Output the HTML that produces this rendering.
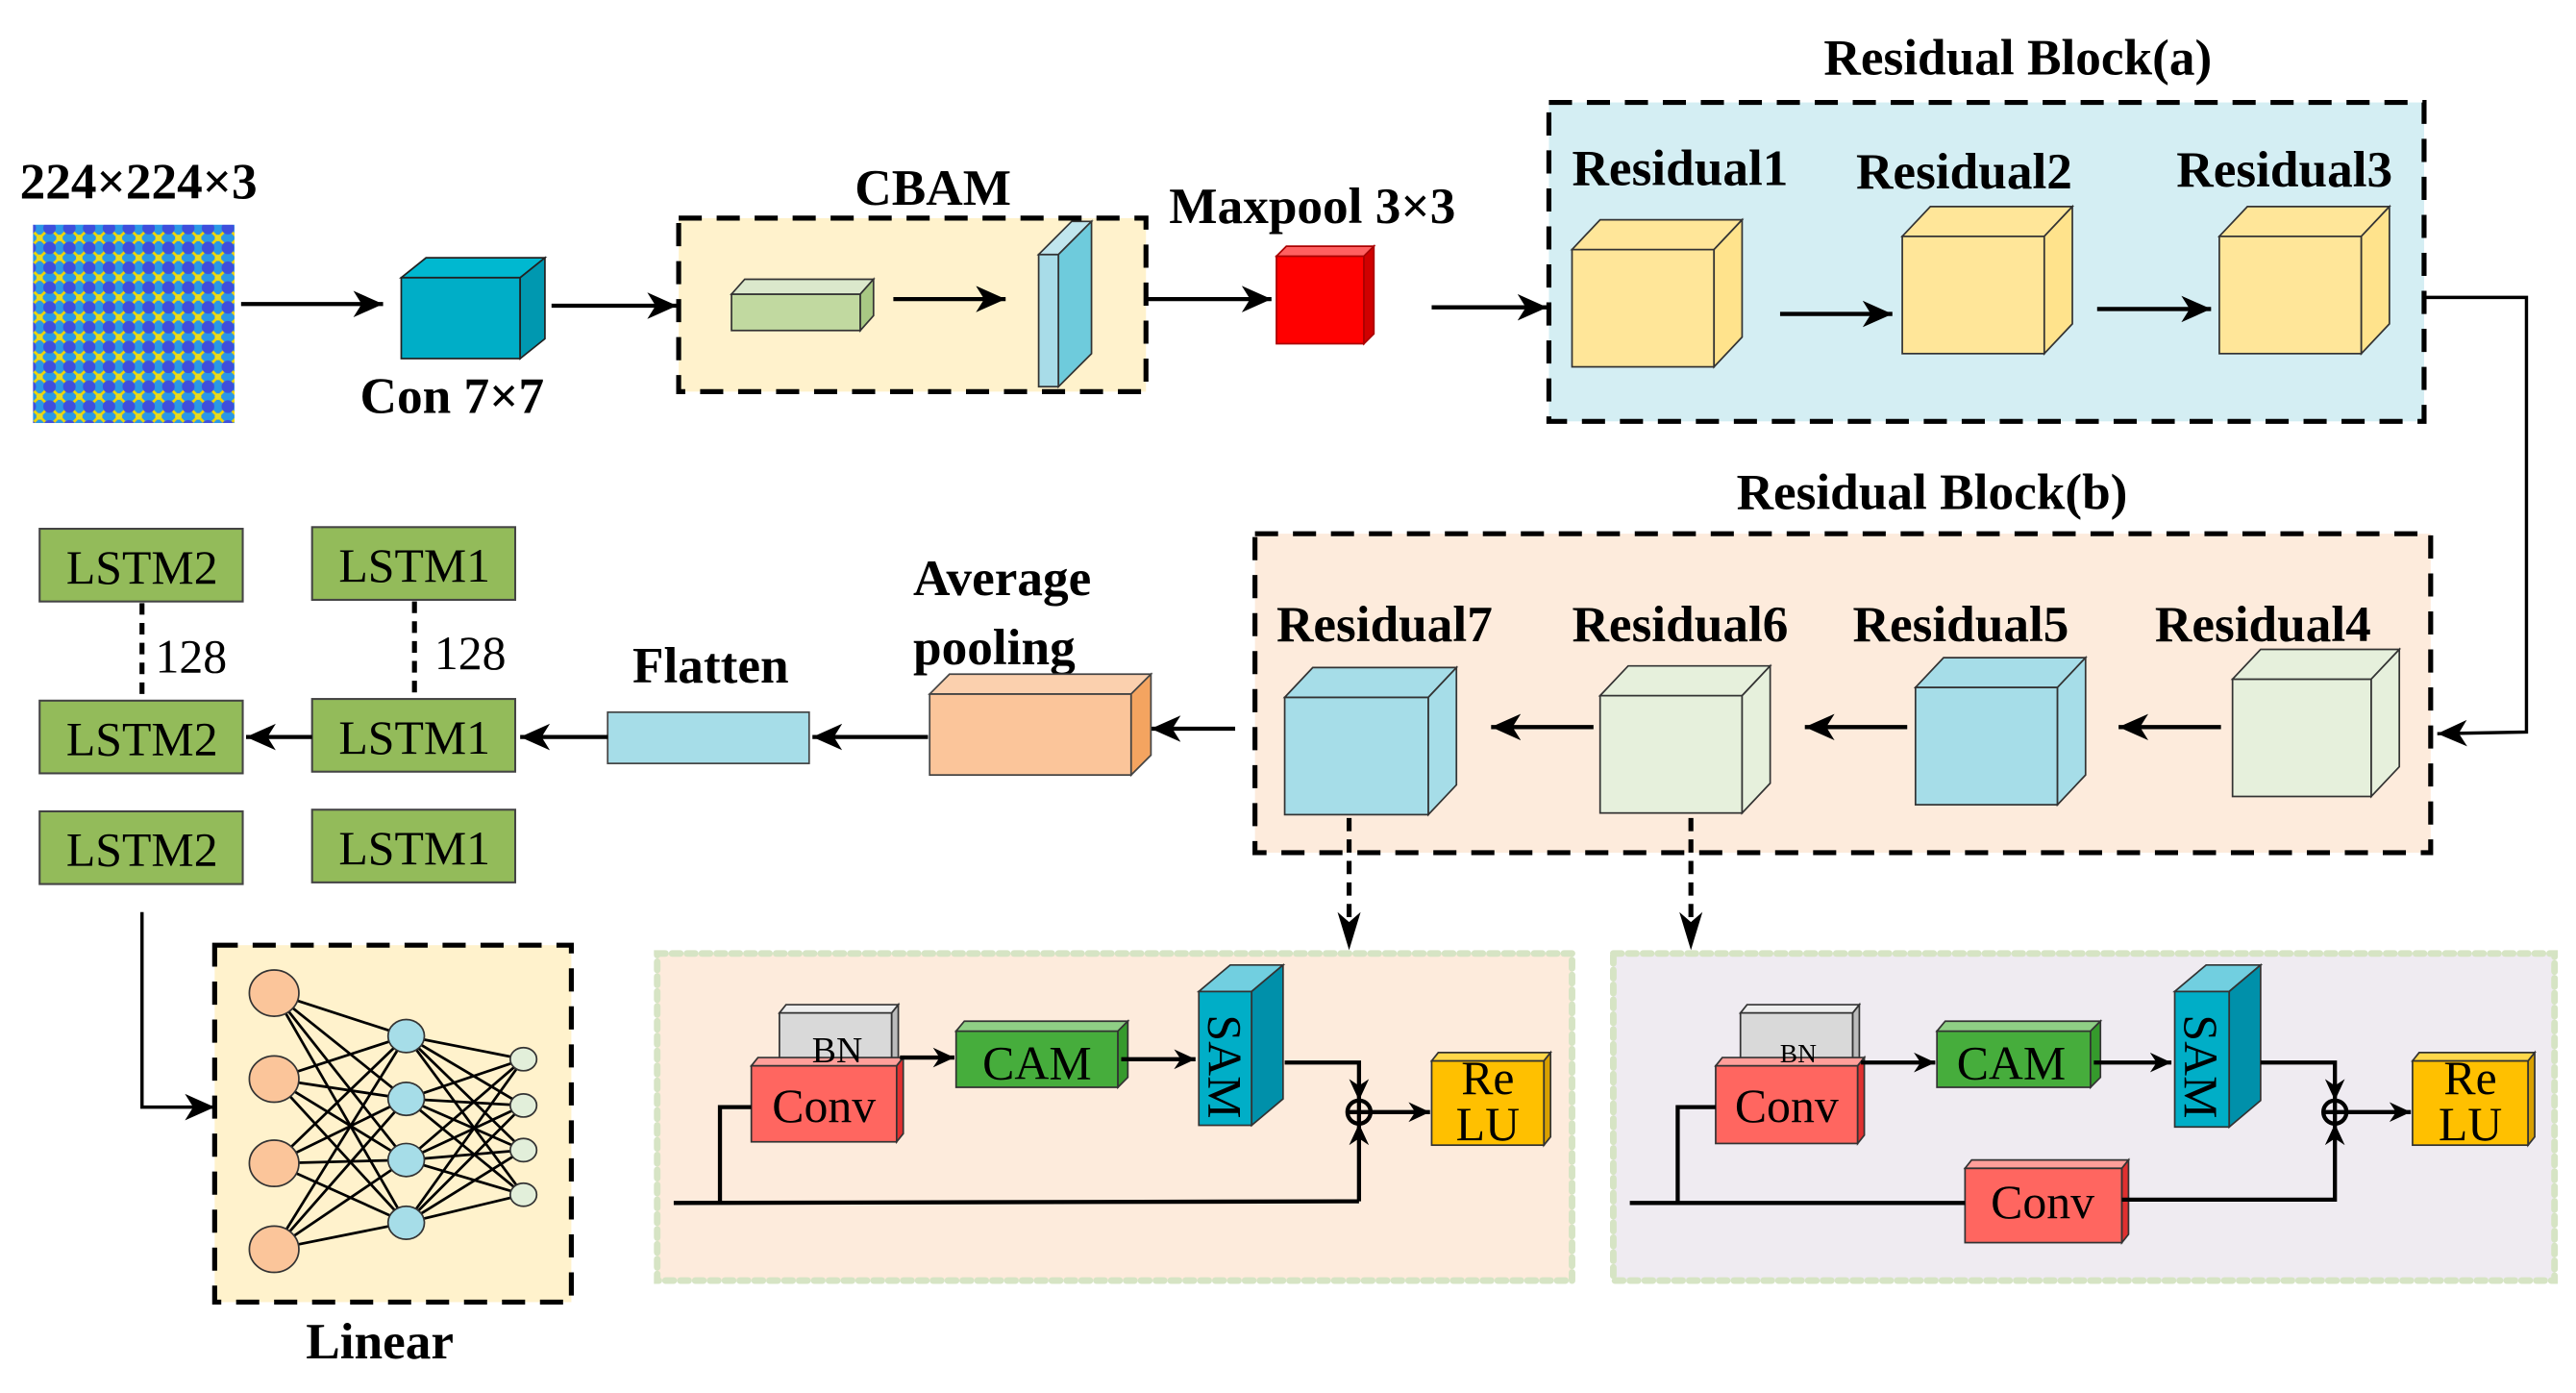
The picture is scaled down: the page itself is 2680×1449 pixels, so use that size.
<!DOCTYPE html>
<html><head><meta charset="utf-8"><style>
html,body{margin:0;padding:0;background:#fff;width:2680px;height:1449px;overflow:hidden}
svg{display:block}
text{font-family:"Liberation Serif",serif;fill:#000}
.b{font-weight:bold;font-size:31px}
.l{font-size:29px}
</style></head><body>
<svg width="2680" height="1449" viewBox="0 0 1560 843" preserveAspectRatio="none" xmlns="http://www.w3.org/2000/svg">
<defs>
<marker id="a" markerUnits="userSpaceOnUse" markerWidth="20" markerHeight="20" refX="18" refY="10" orient="auto"><path d="M0,2 L18,10 L0,18 L5,10 Z" fill="#000"/></marker>
<marker id="s" markerUnits="userSpaceOnUse" markerWidth="14" markerHeight="14" refX="13" refY="7" orient="auto"><path d="M0,1 L13,7 L0,13 L4,7 Z" fill="#000"/></marker>
<pattern id="p" width="12" height="12" patternUnits="userSpaceOnUse">
<rect width="12" height="12" fill="#2a98e6"/>
<path d="M0,0 L12,12 M12,0 L0,12" stroke="#f2d400" stroke-width="1.6"/>
<circle cx="6" cy="6" r="3.8" fill="#3f4fdc"/>
<circle cx="0" cy="0" r="2" fill="#e8dc20"/><circle cx="12" cy="12" r="2" fill="#e8dc20"/>
<circle cx="0" cy="12" r="2" fill="#e8dc20"/><circle cx="12" cy="0" r="2" fill="#e8dc20"/>
</pattern>
</defs>

<!-- titles -->
<text class="b" x="12" y="120">224×224×3</text>
<text class="b" x="218" y="250">Con 7×7</text>
<text class="b" x="565" y="124" text-anchor="middle">CBAM</text>
<text class="b" x="708" y="135">Maxpool 3×3</text>
<text class="b" x="1222" y="45" text-anchor="middle">Residual Block(a)</text>
<text class="b" x="1170" y="308" text-anchor="middle">Residual Block(b)</text>

<!-- input image -->
<rect x="20" y="136" width="122" height="120" fill="url(#p)"/>
<line x1="146" y1="184" x2="232" y2="184" stroke="#000" stroke-width="2.5" marker-end="url(#a)"/>

<!-- Con cube -->
<rect x="243" y="168" width="72" height="49" fill="#00aec7" stroke="#222" stroke-width="1"/>
<polygon points="243,168 258,156 330,156 315,168" fill="#00b8d0" stroke="#222" stroke-width="1"/>
<polygon points="315,168 330,156 330,205 315,217" fill="#0098b0" stroke="#222" stroke-width="1"/>
<line x1="334" y1="185" x2="410" y2="185" stroke="#000" stroke-width="2.5" marker-end="url(#a)"/>

<!-- CBAM -->
<rect x="411" y="132" width="283" height="105" fill="#fff2cc" stroke="#000" stroke-width="3" stroke-dasharray="14,9"/>
<rect x="443" y="178" width="78" height="22" fill="#c1d9a0" stroke="#333" stroke-width="1"/>
<polygon points="443,178 451,169 529,169 521,178" fill="#dbe8cc" stroke="#333" stroke-width="1"/>
<polygon points="521,178 529,169 529,191 521,200" fill="#a8c884" stroke="#333" stroke-width="1"/>
<line x1="541" y1="181" x2="609" y2="181" stroke="#000" stroke-width="2.5" marker-end="url(#a)"/>
<rect x="629" y="154" width="12" height="80" fill="#a8dce8" stroke="#333" stroke-width="1"/>
<polygon points="629,154 649,134 661,134 641,154" fill="#c0e6ee" stroke="#333" stroke-width="1"/>
<polygon points="641,154 661,134 661,214 641,234" fill="#6ecbdc" stroke="#333" stroke-width="1"/>
<line x1="694" y1="181" x2="770" y2="181" stroke="#000" stroke-width="2.5" marker-end="url(#a)"/>

<!-- maxpool -->
<rect x="773" y="155" width="53" height="53" fill="#ff0000" stroke="#a00" stroke-width="1"/>
<polygon points="773,155 779,149 832,149 826,155" fill="#ff6060" stroke="#a00" stroke-width="1"/>
<polygon points="826,155 832,149 832,202 826,208" fill="#d00000" stroke="#a00" stroke-width="1"/>
<line x1="867" y1="186" x2="937" y2="186" stroke="#000" stroke-width="2.5" marker-end="url(#a)"/>

<!-- Residual block a -->
<rect x="938" y="62" width="530" height="193" fill="#d4eef3" stroke="#000" stroke-width="3" stroke-dasharray="14,9"/>
<text class="b" x="952" y="112">Residual1</text>
<text class="b" x="1124" y="114">Residual2</text>
<text class="b" x="1318" y="113">Residual3</text>
<g stroke="#333" stroke-width="1">
<rect x="952" y="151" width="86" height="71" fill="#ffe699"/>
<polygon points="952,151 969,133 1055,133 1038,151" fill="#ffe699"/>
<polygon points="1038,151 1055,133 1055,204 1038,222" fill="#ffe38c"/>
<rect x="1152" y="143" width="86" height="71" fill="#ffe699"/>
<polygon points="1152,143 1169,125 1255,125 1238,143" fill="#ffe699"/>
<polygon points="1238,143 1255,125 1255,196 1238,214" fill="#ffe38c"/>
<rect x="1344" y="143" width="86" height="71" fill="#ffe699"/>
<polygon points="1344,143 1361,125 1447,125 1430,143" fill="#ffe699"/>
<polygon points="1430,143 1447,125 1447,196 1430,214" fill="#ffe38c"/>
</g>
<line x1="1078" y1="190" x2="1146" y2="190" stroke="#000" stroke-width="2.5" marker-end="url(#a)"/>
<line x1="1270" y1="187" x2="1339" y2="187" stroke="#000" stroke-width="2.5" marker-end="url(#a)"/>
<polyline points="1469,180 1530,180 1530,443 1476,444" fill="none" stroke="#000" stroke-width="2" marker-end="url(#a)"/>

<!-- Residual block b -->
<rect x="760" y="323" width="712" height="193" fill="#fdebdc" stroke="#000" stroke-width="3" stroke-dasharray="14,9"/>
<text class="b" x="773" y="388">Residual7</text>
<text class="b" x="952" y="388">Residual6</text>
<text class="b" x="1122" y="388">Residual5</text>
<text class="b" x="1305" y="388">Residual4</text>
<g stroke="#333" stroke-width="1">
<rect x="778" y="422" width="87" height="71" fill="#a6dde8"/>
<polygon points="778,422 795,404 882,404 865,422" fill="#a6dde8"/>
<polygon points="865,422 882,404 882,475 865,493" fill="#a6dde8"/>
<rect x="969" y="421" width="86" height="71" fill="#e6f0dc"/>
<polygon points="969,421 986,403 1072,403 1055,421" fill="#e6f0dc"/>
<polygon points="1055,421 1072,403 1072,474 1055,492" fill="#e6f0dc"/>
<rect x="1160" y="416" width="86" height="71" fill="#a6dde8"/>
<polygon points="1160,416 1177,398 1263,398 1246,416" fill="#a6dde8"/>
<polygon points="1246,416 1263,398 1263,469 1246,487" fill="#a6dde8"/>
<rect x="1352" y="411" width="84" height="71" fill="#e6f0dc"/>
<polygon points="1352,411 1369,393 1453,393 1436,411" fill="#e6f0dc"/>
<polygon points="1436,411 1453,393 1453,464 1436,482" fill="#e6f0dc"/>
</g>
<g stroke="#000" stroke-width="2.5">
<line x1="1345" y1="440" x2="1283" y2="440" marker-end="url(#a)"/>
<line x1="1155" y1="440" x2="1093" y2="440" marker-end="url(#a)"/>
<line x1="965" y1="440" x2="903" y2="440" marker-end="url(#a)"/>
<line x1="748" y1="441" x2="697" y2="441" marker-end="url(#a)"/>
</g>

<!-- avg pooling -->
<text class="b" x="553" y="360">Average</text>
<text class="b" x="553" y="402">pooling</text>
<rect x="563" y="420" width="122" height="49" fill="#fbc59a" stroke="#444" stroke-width="1"/>
<polygon points="563,420 575,408 697,408 685,420" fill="#fbd0ae" stroke="#444" stroke-width="1"/>
<polygon points="685,420 697,408 697,457 685,469" fill="#f4a460" stroke="#444" stroke-width="1"/>
<line x1="562" y1="446" x2="492" y2="446" stroke="#000" stroke-width="2.5" marker-end="url(#a)"/>

<!-- flatten -->
<text class="b" x="383" y="413">Flatten</text>
<rect x="368" y="431" width="122" height="31" fill="#a6dde8" stroke="#444" stroke-width="1"/>
<line x1="368" y1="446" x2="315" y2="446" stroke="#000" stroke-width="2.5" marker-end="url(#a)"/>

<!-- LSTMs -->
<g fill="#93bb5a" stroke="#444" stroke-width="1.2">
<rect x="24" y="320" width="123" height="44"/><rect x="189" y="319" width="123" height="44"/>
<rect x="24" y="424" width="123" height="44"/><rect x="189" y="423" width="123" height="44"/>
<rect x="24" y="491" width="123" height="44"/><rect x="189" y="490" width="123" height="44"/>
</g>
<g class="l" text-anchor="middle">
<text class="l" x="86" y="353" text-anchor="middle">LSTM2</text><text class="l" x="251" y="352" text-anchor="middle">LSTM1</text>
<text class="l" x="86" y="457" text-anchor="middle">LSTM2</text><text class="l" x="251" y="456" text-anchor="middle">LSTM1</text>
<text class="l" x="86" y="524" text-anchor="middle">LSTM2</text><text class="l" x="251" y="523" text-anchor="middle">LSTM1</text>
</g>
<g stroke="#000" stroke-width="3" stroke-dasharray="7,5">
<line x1="86" y1="365" x2="86" y2="424"/><line x1="251" y1="364" x2="251" y2="423"/>
</g>
<text class="l" x="94" y="407">128</text>
<text class="l" x="263" y="405">128</text>
<line x1="189" y1="446" x2="149" y2="446" stroke="#000" stroke-width="2.5" marker-end="url(#a)"/>
<polyline points="86,552 86,670 130,670" fill="none" stroke="#000" stroke-width="2" marker-end="url(#a)"/>

<!-- Linear -->
<rect x="130" y="572" width="216" height="216" fill="#fff2cc" stroke="#000" stroke-width="3" stroke-dasharray="14,9"/>
<text class="b" x="230" y="822" text-anchor="middle">Linear</text>
<g stroke="#000" stroke-width="1.6">
<line x1="166" y1="601" x2="246" y2="627"/><line x1="166" y1="601" x2="246" y2="665"/><line x1="166" y1="601" x2="246" y2="702"/><line x1="166" y1="601" x2="246" y2="740"/>
<line x1="166" y1="653" x2="246" y2="627"/><line x1="166" y1="653" x2="246" y2="665"/><line x1="166" y1="653" x2="246" y2="702"/><line x1="166" y1="653" x2="246" y2="740"/>
<line x1="166" y1="704" x2="246" y2="627"/><line x1="166" y1="704" x2="246" y2="665"/><line x1="166" y1="704" x2="246" y2="702"/><line x1="166" y1="704" x2="246" y2="740"/>
<line x1="166" y1="756" x2="246" y2="627"/><line x1="166" y1="756" x2="246" y2="665"/><line x1="166" y1="756" x2="246" y2="702"/><line x1="166" y1="756" x2="246" y2="740"/>
<line x1="246" y1="627" x2="317" y2="641"/><line x1="246" y1="627" x2="317" y2="669"/><line x1="246" y1="627" x2="317" y2="696"/><line x1="246" y1="627" x2="317" y2="723"/>
<line x1="246" y1="665" x2="317" y2="641"/><line x1="246" y1="665" x2="317" y2="669"/><line x1="246" y1="665" x2="317" y2="696"/><line x1="246" y1="665" x2="317" y2="723"/>
<line x1="246" y1="702" x2="317" y2="641"/><line x1="246" y1="702" x2="317" y2="669"/><line x1="246" y1="702" x2="317" y2="696"/><line x1="246" y1="702" x2="317" y2="723"/>
<line x1="246" y1="740" x2="317" y2="641"/><line x1="246" y1="740" x2="317" y2="669"/><line x1="246" y1="740" x2="317" y2="696"/><line x1="246" y1="740" x2="317" y2="723"/>
</g>
<g stroke="#333" stroke-width="1">
<ellipse cx="166" cy="601" rx="15" ry="14" fill="#fbc59a"/><ellipse cx="166" cy="653" rx="15" ry="14" fill="#fbc59a"/>
<ellipse cx="166" cy="704" rx="15" ry="14" fill="#fbc59a"/><ellipse cx="166" cy="756" rx="15" ry="14" fill="#fbc59a"/>
<ellipse cx="246" cy="627" rx="11" ry="10" fill="#a6dde8"/><ellipse cx="246" cy="665" rx="11" ry="10" fill="#a6dde8"/>
<ellipse cx="246" cy="702" rx="11" ry="10" fill="#a6dde8"/><ellipse cx="246" cy="740" rx="11" ry="10" fill="#a6dde8"/>
<ellipse cx="317" cy="641" rx="8" ry="7" fill="#e2efda"/><ellipse cx="317" cy="669" rx="8" ry="7" fill="#e2efda"/>
<ellipse cx="317" cy="696" rx="8" ry="7" fill="#e2efda"/><ellipse cx="317" cy="723" rx="8" ry="7" fill="#e2efda"/>
</g>

<!-- dashed down arrows -->
<g stroke="#000" stroke-width="3" stroke-dasharray="8,5">
<line x1="817" y1="495" x2="817" y2="560"/><line x1="1024" y1="495" x2="1024" y2="560"/>
</g>
<path d="M810,552 L817,575 L824,552 L817,558 Z" fill="#000"/>
<path d="M1017,552 L1024,575 L1031,552 L1024,558 Z" fill="#000"/>

<!-- bottom panels -->
<rect x="398" y="577" width="554" height="198" fill="#fdebdc" stroke="#d6e4c4" stroke-width="4" stroke-dasharray="5,4" stroke-linecap="round"/>
<rect x="977" y="577" width="570" height="198" fill="#efebf1" stroke="#d6e4c4" stroke-width="4" stroke-dasharray="5,4" stroke-linecap="round"/>

<!-- left panel -->
<g stroke="#333" stroke-width="1">
<rect x="472" y="613" width="68" height="32" fill="#d9d9d9"/>
<polygon points="472,613 476,608 544,608 540,613" fill="#eee"/>
<polygon points="540,613 544,608 544,640 540,645" fill="#bbb"/>
<rect x="455" y="645" width="88" height="46" fill="#ff6660"/>
<polygon points="455,645 459,640 547,640 543,645" fill="#ff9f9a"/>
<polygon points="543,645 547,640 547,686 543,691" fill="#e03030"/>
<rect x="579" y="624" width="98" height="34" fill="#46ad3c"/>
<polygon points="579,624 584,618 683,618 677,624" fill="#8fcf85"/>
<polygon points="677,624 683,618 683,652 677,658" fill="#359a2c"/>
<rect x="726" y="600" width="32" height="81" fill="#00aec7"/>
<polygon points="726,600 745,584 777,584 758,600" fill="#71cfe0"/>
<polygon points="758,600 777,584 777,665 758,681" fill="#0090aa"/>
<rect x="867" y="642" width="68" height="51" fill="#ffc000"/>
<polygon points="867,642 871,637 939,637 935,642" fill="#ffd84a"/>
<polygon points="935,642 939,637 939,688 935,693" fill="#d9a000"/>
</g>
<text x="507" y="643" font-size="22" text-anchor="middle" fill="#222">BN</text>
<text class="l" x="499" y="679" text-anchor="middle">Conv</text>
<text class="l" x="628" y="653" text-anchor="middle">CAM</text>
<text class="l" transform="translate(732,614) rotate(90)">SAM</text>
<text class="l" x="901" y="662" text-anchor="middle">Re</text>
<text class="l" x="901" y="690" text-anchor="middle">LU</text>
<g stroke="#000" stroke-width="2.5" fill="none">
<line x1="545" y1="640" x2="578" y2="640" marker-end="url(#s)"/>
<line x1="679" y1="641" x2="724" y2="641" marker-end="url(#s)"/>
<polyline points="778,643 823,643 823,666" marker-end="url(#s)"/>
<line x1="408" y1="728" x2="823" y2="727"/>
<polyline points="823,727 823,680" marker-end="url(#s)"/>
<polyline points="436,727 436,670 455,670"/>
<line x1="830" y1="673" x2="866" y2="673" marker-end="url(#s)"/>
<circle cx="823" cy="673" r="7"/><line x1="816" y1="673" x2="830" y2="673"/><line x1="823" y1="666" x2="823" y2="680"/>
</g>

<!-- right panel -->
<g stroke="#333" stroke-width="1">
<rect x="1054" y="613" width="68" height="32" fill="#d9d9d9"/>
<polygon points="1054,613 1058,608 1126,608 1122,613" fill="#eee"/>
<polygon points="1122,613 1126,608 1126,640 1122,645" fill="#bbb"/>
<rect x="1039" y="645" width="86" height="47" fill="#ff6660"/>
<polygon points="1039,645 1043,640 1129,640 1125,645" fill="#ff9f9a"/>
<polygon points="1125,645 1129,640 1129,687 1125,692" fill="#e03030"/>
<rect x="1173" y="624" width="93" height="34" fill="#46ad3c"/>
<polygon points="1173,624 1178,618 1272,618 1266,624" fill="#8fcf85"/>
<polygon points="1266,624 1272,618 1272,652 1266,658" fill="#359a2c"/>
<rect x="1317" y="600" width="33" height="82" fill="#00aec7"/>
<polygon points="1317,600 1336,584 1369,584 1350,600" fill="#71cfe0"/>
<polygon points="1350,600 1369,584 1369,666 1350,682" fill="#0090aa"/>
<rect x="1461" y="642" width="70" height="51" fill="#ffc000"/>
<polygon points="1461,642 1465,637 1535,637 1531,642" fill="#ffd84a"/>
<polygon points="1531,642 1535,637 1535,688 1531,693" fill="#d9a000"/>
<rect x="1190" y="707" width="95" height="45" fill="#ff6660"/>
<polygon points="1190,707 1194,702 1289,702 1285,707" fill="#ff9f9a"/>
<polygon points="1285,707 1289,702 1289,747 1285,752" fill="#e03030"/>
</g>
<text x="1089" y="643" font-size="16" text-anchor="middle" fill="#222">BN</text>
<text class="l" x="1082" y="679" text-anchor="middle">Conv</text>
<text class="l" x="1218" y="653" text-anchor="middle">CAM</text>
<text class="l" transform="translate(1323,614) rotate(90)">SAM</text>
<text class="l" x="1496" y="662" text-anchor="middle">Re</text>
<text class="l" x="1496" y="690" text-anchor="middle">LU</text>
<text class="l" x="1237" y="737" text-anchor="middle">Conv</text>
<g stroke="#000" stroke-width="2.5" fill="none">
<line x1="1127" y1="643" x2="1172" y2="643" marker-end="url(#s)"/>
<line x1="1268" y1="643" x2="1315" y2="643" marker-end="url(#s)"/>
<polyline points="1369,643 1414,643 1414,666" marker-end="url(#s)"/>
<line x1="987" y1="728" x2="1190" y2="728"/>
<polyline points="1285,726 1414,726 1414,680" marker-end="url(#s)"/>
<polyline points="1016,728 1016,670 1039,670"/>
<line x1="1421" y1="673" x2="1460" y2="673" marker-end="url(#s)"/>
<circle cx="1414" cy="673" r="7"/><line x1="1407" y1="673" x2="1421" y2="673"/><line x1="1414" y1="666" x2="1414" y2="680"/>
</g>
</svg>
</body></html>
